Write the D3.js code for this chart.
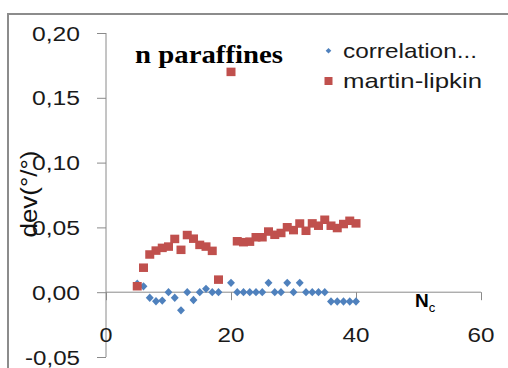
<!DOCTYPE html>
<html>
<head>
<meta charset="utf-8">
<script src="https://cdn.jsdelivr.net/npm/d3@7"></script>
<style>
  body { margin: 0; background: #fff; }
  svg { display: block; }
  text { font-family: "Liberation Sans", Arial, sans-serif; fill: #1a1a1a; }
</style>
</head>
<body>
<script>
// carbon number and deviations
let nc = [5, 6, 7, 8, 9, 10, 11, 12, 13, 14, 15, 16, 17, 18,
    20, 21, 22, 23, 24, 25, 26, 27, 28, 29, 30, 31, 32, 33, 34, 35, 36, 37, 38, 39, 40]

let correlation = [0.0065, 0.0045, -0.0043, -0.007, -0.0065, 0, -0.0043, -0.014, 0, -0.006, 0, 0.0026, 0, 0,
    0.0072, 0, 0, 0, 0, 0, 0.0072, 0, 0, 0.0072, 0, 0.0072, 0, 0, 0, 0, -0.0072, -0.0072, -0.0072, -0.0072, -0.0072]

let martinLipkin = [0.0046, 0.0189, 0.0291, 0.0321, 0.0342, 0.0352, 0.0411, 0.0327, 0.0441, 0.0413, 0.0365, 0.0352, 0.0319, 0.0097,
    0.170, 0.0393, 0.0386, 0.0390, 0.0424, 0.0424, 0.0468, 0.0443, 0.0457, 0.0501, 0.0479, 0.0530, 0.0474, 0.0531, 0.0513, 0.0559, 0.0513, 0.0495, 0.0526, 0.0551, 0.0531]

let xTicks = [0, 20, 40, 60]
let yTicks = [-0.05, 0, 0.05, 0.10, 0.15, 0.20]

let seriesNames = ["correlation...", "martin-lipkin"]

const width = 508
const height = 368
const axisColor = "#8a8a8a"

let svg = d3.select("body").append("svg")
    .attr("width", width)
    .attr("height", height)

// outer chart frame (runs off the picture on the right and bottom)
svg.append("path")
    .attr("d", "M8,370 L8,14 L510,14")
    .attr("fill", "none")
    .attr("stroke", "#8c8c8c")
    .attr("stroke-width", 2)

let x = d3.scaleLinear().domain([0, 60]).range([106, 481])
let y = d3.scaleLinear().domain([-0.05, 0.20]).range([357, 33])

let fmt = v => d3.format(".2f")(v).replace(".", ",").replace("−", "-")

// stretch text to the width measured on the picture
function fitWidth(sel, w) {
    sel.attr("textLength", w).attr("lengthAdjust", "spacingAndGlyphs")
}

// y axis
let yAxis = svg.append("g")
    .attr("transform", "translate(" + x(0) + ",0)")
    .call(d3.axisLeft(y).tickValues(yTicks).tickSize(9).tickFormat(""))
yAxis.select(".domain").attr("stroke", axisColor).attr("d", "M0," + y(0.20) + "V" + y(-0.05))
yAxis.selectAll(".tick line").attr("stroke", axisColor)

svg.append("g").selectAll("text")
    .data(yTicks)
    .enter()
    .append("text")
    .attr("x", 80)
    .attr("y", d => y(d) + 7.5)
    .attr("text-anchor", "end")
    .style("font-size", "19.5px")
    .text(d => fmt(d))
    .each(function (d) { fitWidth(d3.select(this), d < 0 ? 55 : 48) })

// x axis crossing at zero
let xAxis = svg.append("g")
    .attr("transform", "translate(0," + y(0) + ")")
    .call(d3.axisBottom(x).tickValues(xTicks).tickSize(8).tickFormat(""))
xAxis.select(".domain").attr("stroke", axisColor).attr("d", "M" + x(0) + ",0H" + x(60))
xAxis.selectAll(".tick line").attr("stroke", axisColor)

svg.append("g").selectAll("text")
    .data(xTicks)
    .enter()
    .append("text")
    .attr("x", d => x(d))
    .attr("y", 342)
    .attr("text-anchor", "middle")
    .style("font-size", "19.5px")
    .text(d => d)
    .each(function (d) { fitWidth(d3.select(this), d === 0 ? 13 : 27) })

// axis titles
svg.append("text")
    .attr("transform", "translate(37,194) rotate(-90)")
    .attr("text-anchor", "middle")
    .style("font-size", "24px")
    .style("fill", "#111")
    .text("dev(°/°)")
    .call(fitWidth, 87)

let nLabel = svg.append("text")
    .attr("x", 415)
    .attr("y", 306.5)
    .style("font-weight", "bold")
    .style("font-size", "19px")
    .style("fill", "#000")
nLabel.append("tspan").text("N")
nLabel.append("tspan").attr("dy", 5.5).style("font-size", "13px").style("font-weight", "normal").text("c")

// chart title
svg.append("text")
    .attr("x", 135)
    .attr("y", 63)
    .style("font-family", "'Liberation Serif', 'Times New Roman', serif")
    .style("font-weight", "bold")
    .style("font-size", "25px")
    .style("fill", "#000")
    .text("n paraffines")
    .call(fitWidth, 148)

// markers
let diamond = d3.symbol().type(d3.symbolDiamond2).size(40)

svg.append("g").selectAll("path")
    .data(nc)
    .enter()
    .append("path")
    .attr("d", diamond)
    .attr("transform", (d, i) => "translate(" + x(d) + "," + y(correlation[i]) + ") scale(1,1.05)")
    .attr("fill", "#4f81bd")

svg.append("g").selectAll("rect")
    .data(nc)
    .enter()
    .append("rect")
    .attr("x", d => x(d) - 4.5)
    .attr("y", (d, i) => y(martinLipkin[i]) - 4.25)
    .attr("width", 9)
    .attr("height", 8.5)
    .attr("fill", "#c0504d")

// legend
let legend = svg.append("g")
legend.append("path")
    .attr("d", d3.symbol().type(d3.symbolDiamond2).size(20))
    .attr("transform", "translate(328.5,50.7)")
    .attr("fill", "#4f81bd")
legend.append("rect")
    .attr("x", 324.5)
    .attr("y", 77)
    .attr("width", 8)
    .attr("height", 8)
    .attr("fill", "#c0504d")

legend.selectAll("text")
    .data(seriesNames)
    .enter()
    .append("text")
    .attr("x", 343)
    .attr("y", (d, i) => i === 0 ? 57.5 : 88.3)
    .style("font-size", "21px")
    .text(d => d)
    .each(function (d, i) { fitWidth(d3.select(this), i === 0 ? 134 : 139) })
</script>
</body>
</html>
